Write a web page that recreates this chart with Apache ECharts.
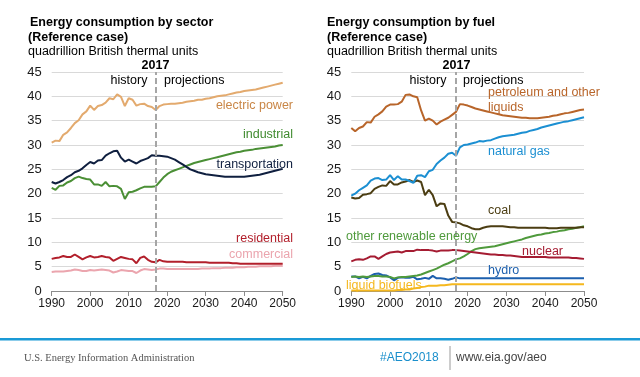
<!DOCTYPE html>
<html><head><meta charset="utf-8">
<script src="https://cdn.jsdelivr.net/npm/echarts@6/dist/echarts.min.js"></script>
<style>html,body{margin:0;padding:0;background:#fff}#c{width:640px;height:377px}</style>
</head><body><div id="c"></div>
<script>
const years = [1990,1991,1992,1993,1994,1995,1996,1997,1998,1999,
  2000,2001,2002,2003,2004,2005,2006,2007,2008,2009,
  2010,2011,2012,2013,2014,2015,2016,2017,2018,2019,
  2020,2021,2022,2023,2024,2025,2026,2027,2028,2029,
  2030,2031,2032,2033,2034,2035,2036,2037,2038,2039,
  2040,2041,2042,2043,2044,2045,2046,2047,2048,2049,2050];
const xTicks = [1990,2000,2010,2020,2030,2040,2050];
const yTicks = [0,5,10,15,20,25,30,35,40,45];
const splitYear = 2017;

// sector (left)
const electricPower = [30.5,30.9,30.8,32.1,32.6,33.5,34.5,35.1,36.3,36.9,38.1,37.2,38.0,38.2,38.7,39.6,39.4,40.4,39.9,38.0,39.6,39.3,38.1,38.4,38.5,38.0,37.8,37.2,
  38.0,38.3,38.4,38.5,38.5,38.6,38.7,38.9,39.0,39.1,39.3,39.3,39.5,39.6,39.8,40.0,40.1,40.2,40.4,40.6,40.8,40.9,41.1,41.2,41.3,41.4,41.6,41.8,42.0,42.2,42.4,42.6,42.8];
const industrial = [21.2,20.8,21.6,21.7,22.3,22.6,23.2,23.5,23.2,23.0,22.9,21.9,21.9,21.6,22.4,21.5,21.6,21.5,21.0,18.9,20.3,20.4,20.7,21.1,21.4,21.4,21.4,21.5,
  22.4,23.3,24.0,24.5,24.8,25.1,25.4,25.7,26.0,26.3,26.5,26.7,26.9,27.1,27.3,27.5,27.7,27.9,28.1,28.3,28.5,28.6,28.8,28.9,29.0,29.2,29.3,29.4,29.5,29.6,29.7,29.9,30.0];
const transportation = [22.4,22.1,22.4,22.8,23.4,23.8,24.4,24.7,25.2,25.9,26.5,26.2,26.8,26.9,27.8,28.3,28.7,28.8,27.4,26.6,27.0,26.6,26.2,26.7,27.0,27.3,27.9,27.8,
  27.8,27.7,27.6,27.3,27.0,26.5,26.0,25.5,25.0,24.7,24.4,24.2,24.0,23.9,23.8,23.7,23.6,23.5,23.5,23.5,23.5,23.5,23.5,23.6,23.7,23.8,23.9,24.1,24.3,24.5,24.7,24.9,25.1];
const residential = [6.6,6.8,6.9,7.2,7.0,7.0,7.5,7.0,6.5,6.9,7.2,6.9,7.0,7.2,7.0,6.9,6.2,6.6,7.0,6.8,6.6,6.5,5.7,6.8,7.1,6.4,6.0,5.9,
  6.4,6.1,6.0,6.0,6.0,6.0,6.0,5.9,5.9,5.9,5.9,5.9,5.9,5.8,5.8,5.8,5.8,5.8,5.8,5.7,5.7,5.6,5.6,5.6,5.6,5.6,5.6,5.6,5.6,5.6,5.6,5.6,5.6];
const commercial = [3.9,4.0,4.0,4.0,4.1,4.2,4.4,4.3,4.1,4.1,4.3,4.2,4.3,4.4,4.3,4.2,3.8,4.0,4.3,4.2,4.1,4.1,3.7,4.2,4.5,4.4,4.3,4.4,
  4.6,4.6,4.5,4.5,4.5,4.5,4.5,4.5,4.5,4.5,4.5,4.6,4.6,4.6,4.7,4.7,4.7,4.8,4.8,4.8,4.9,4.9,4.9,5.0,5.0,5.0,5.1,5.1,5.1,5.1,5.2,5.2,5.2];

// fuel (right)
const petroleum = [33.5,32.8,33.5,33.8,34.7,34.6,35.8,36.3,36.9,37.9,38.3,38.3,38.4,38.9,40.3,40.4,40.0,39.8,37.1,35.0,35.4,35.0,34.2,34.8,35.2,35.6,36.2,36.8,
  38.4,38.3,38.1,37.8,37.5,37.3,37.1,36.9,36.7,36.5,36.3,36.1,36.0,35.9,35.8,35.7,35.6,35.6,35.5,35.5,35.5,35.6,35.7,35.8,36.0,36.1,36.3,36.5,36.6,36.8,37.0,37.2,37.3];
const naturalGas = [19.6,20.0,20.7,21.2,21.7,22.7,23.1,23.2,22.8,22.9,23.8,22.8,23.6,22.9,22.9,22.6,22.2,23.7,23.8,23.4,24.6,24.9,26.1,26.8,27.4,28.2,28.4,27.8,
  29.5,30.0,30.1,30.3,30.5,30.8,30.7,30.9,31.0,31.3,31.6,31.8,31.9,32.0,32.1,32.3,32.5,32.6,32.9,33.1,33.3,33.6,33.8,34.0,34.2,34.4,34.6,34.8,34.9,35.1,35.3,35.5,35.7];
const coal = [19.2,19.0,19.1,19.8,19.9,20.1,21.0,21.4,21.7,21.6,22.6,21.9,21.9,22.3,22.5,22.8,22.4,22.7,22.4,19.7,20.8,19.7,17.4,18.0,17.9,15.5,14.2,14.1,
  13.9,13.5,13.3,12.9,12.7,12.7,13.0,13.2,13.3,13.3,13.3,13.3,13.2,13.1,13.1,13.0,13.0,13.0,13.0,13.0,13.0,13.0,13.0,12.9,12.9,12.9,13.0,13.0,13.0,13.0,13.0,13.1,13.1];
const otherRenewable = [2.9,3.0,2.9,3.0,2.9,3.0,3.1,3.1,3.0,3.0,2.9,2.6,2.8,2.9,2.9,3.0,3.1,3.2,3.4,3.7,4.0,4.3,4.6,5.0,5.4,5.7,6.1,6.5,
  6.7,7.1,7.6,8.2,8.6,8.8,8.9,9.0,9.1,9.2,9.4,9.6,9.8,10.0,10.2,10.4,10.6,10.9,11.1,11.3,11.5,11.6,11.8,11.9,12.1,12.2,12.4,12.5,12.7,12.8,13.0,13.1,13.3];
const nuclear = [6.1,6.4,6.5,6.4,6.7,7.1,7.1,6.6,7.1,7.6,7.9,8.0,8.1,7.9,8.2,8.2,8.2,8.5,8.4,8.4,8.4,8.3,8.1,8.3,8.3,8.3,8.4,8.4,
  8.3,8.2,8.1,8.0,7.9,7.8,7.7,7.6,7.5,7.5,7.4,7.4,7.3,7.3,7.2,7.1,7.0,7.0,7.0,7.0,7.0,7.0,7.0,6.9,6.9,6.9,6.9,6.9,6.9,6.8,6.8,6.7,6.6];
const hydro = [3.0,3.0,2.6,2.9,2.6,3.1,3.5,3.6,3.3,3.2,2.8,2.2,2.7,2.8,2.7,2.7,2.9,2.4,2.5,2.7,2.5,3.1,2.6,2.6,2.5,2.3,2.5,2.8,
  2.6,2.6,2.6,2.6,2.6,2.6,2.6,2.6,2.6,2.6,2.6,2.6,2.6,2.6,2.6,2.6,2.6,2.6,2.6,2.6,2.6,2.6,2.6,2.6,2.6,2.6,2.6,2.6,2.6,2.6,2.6,2.6,2.6];
const liquidBiofuels = [0.1,0.1,0.1,0.1,0.1,0.1,0.1,0.1,0.1,0.1,0.1,0.1,0.2,0.2,0.3,0.3,0.5,0.6,0.8,0.9,1.1,1.1,1.1,1.2,1.2,1.3,1.4,1.4,
  1.4,1.4,1.4,1.4,1.4,1.4,1.4,1.4,1.4,1.4,1.4,1.4,1.4,1.4,1.4,1.4,1.4,1.4,1.4,1.4,1.4,1.4,1.4,1.4,1.4,1.4,1.4,1.4,1.4,1.4,1.4,1.4,1.4];

const FONT = '"Liberation Sans", Arial, sans-serif';
const pairs = arr => years.map((y, i) => [y, arr[i]]);

function axesFor(idx) {
  return {
    x: {
      type: 'value', gridIndex: idx,
      min: xTicks[0], max: xTicks[xTicks.length - 1], interval: xTicks[1] - xTicks[0],
      axisLine: { show: true, lineStyle: { color: '#8c8c8c', width: 1 } },
      axisTick: { show: true, length: 5, lineStyle: { color: '#8c8c8c' } },
      splitLine: { show: false },
      axisLabel: { fontFamily: FONT, fontSize: 12, color: '#1a1a1a', margin: 7, formatter: v => String(v) }
    },
    y: {
      type: 'value', gridIndex: idx,
      min: yTicks[0], max: yTicks[yTicks.length - 1], interval: yTicks[1] - yTicks[0],
      axisLine: { show: false }, axisTick: { show: false },
      splitLine: { show: true, lineStyle: { color: '#d9d9d9', width: 1 } },
      axisLabel: { fontFamily: FONT, fontSize: 13, color: '#1a1a1a', margin: 10 }
    }
  };
}
const a0 = axesFor(0), a1 = axesFor(1);

function line(name, arr, color, idx, z) {
  return {
    name, type: 'line', xAxisIndex: idx, yAxisIndex: idx,
    data: pairs(arr), showSymbol: false, symbol: 'none', smooth: false,
    lineStyle: { color, width: 2 }, z: z || 2, silent: true, animation: false
  };
}
function divider(idx) {
  return {
    type: 'line', xAxisIndex: idx, yAxisIndex: idx, data: [], symbol: 'none', animation: false,
    markLine: {
      silent: true, symbol: ['none', 'none'], animation: false,
      label: { show: false },
      lineStyle: { color: '#a6a6a6', width: 2, type: [6, 3] },
      data: [{ xAxis: splitYear }]
    }, z: 5
  };
}

function txt(x, y, text, opts) {
  return {
    type: 'text', x, y, silent: true, z: 10,
    style: Object.assign({
      text, fontFamily: FONT, fontSize: 12.5, fill: '#000',
      textAlign: 'left', textVerticalAlign: 'middle'
    }, opts || {})
  };
}

const option = {
  backgroundColor: '#fff',
  animation: false,
  grid: [
    { left: 51.7, right: 640 - 282.7, top: 72, bottom: 377 - 291, containLabel: false },
    { left: 351.3, right: 640 - 584, top: 72, bottom: 377 - 291, containLabel: false }
  ],
  xAxis: [a0.x, a1.x],
  yAxis: [a0.y, a1.y],
  series: [
    divider(0), divider(1),
    line('electric power', electricPower, '#e3aa6e', 0),
    line('industrial', industrial, '#4a8f35', 0),
    line('transportation', transportation, '#0f1f3f', 0),
    line('commercial', commercial, '#eba5ae', 0),
    line('residential', residential, '#b21f2b', 0),
    line('liquid biofuels', liquidBiofuels, '#f5b81e', 1),
    line('hydro', hydro, '#1d60ae', 1),
    line('other renewable energy', otherRenewable, '#4f9a3c', 1),
    line('nuclear', nuclear, '#a51c32', 1),
    line('coal', coal, '#4b3d12', 1),
    line('natural gas', naturalGas, '#1b8fd2', 1),
    line('petroleum and other liquids', petroleum, '#b8652a', 1)
  ],
  graphic: [
    // left titles
    txt(30, 22.5, 'Energy consumption by sector', { fontWeight: 'bold' }),
    txt(28, 37.5, '(Reference case)', { fontWeight: 'bold' }),
    txt(28, 52, 'quadrillion British thermal units'),
    txt(155.5, 66, '2017', { fontWeight: 'bold', textAlign: 'center' }),
    txt(129, 81, 'history', { textAlign: 'center' }),
    txt(164, 81, 'projections'),
    txt(293, 106, 'electric power', { textAlign: 'right', fill: '#c98646' }),
    txt(293, 135, 'industrial', { textAlign: 'right', fill: '#3f8a2e' }),
    txt(293, 165, 'transportation', { textAlign: 'right', fill: '#0f1f3f' }),
    txt(293, 239, 'residential', { textAlign: 'right', fill: '#b21f2b' }),
    txt(293, 254.5, 'commercial', { textAlign: 'right', fill: '#eba5ae' }),
    // right titles
    txt(327, 22.5, 'Energy consumption by fuel', { fontWeight: 'bold' }),
    txt(327, 37.5, '(Reference case)', { fontWeight: 'bold' }),
    txt(327, 52, 'quadrillion British thermal units'),
    txt(456.5, 66, '2017', { fontWeight: 'bold', textAlign: 'center' }),
    txt(428, 81, 'history', { textAlign: 'center' }),
    txt(463, 81, 'projections'),
    txt(488, 92.5, 'petroleum and other', { fill: '#b8652a' }),
    txt(488, 107.5, 'liquids', { fill: '#b8652a' }),
    txt(488, 152, 'natural gas', { fill: '#1b8fd2' }),
    txt(488, 211, 'coal', { fill: '#4b3d12' }),
    txt(346, 237, 'other renewable energy', { fill: '#4f9a3c' }),
    txt(522, 252, 'nuclear', { fill: '#a51c32' }),
    txt(488, 271, 'hydro', { fill: '#1d60ae' }),
    txt(346, 285.5, 'liquid biofuels', { fill: '#f5b81e' }),
    // footer
    { type: 'rect', silent: true, shape: { x: 0, y: 338, width: 640, height: 2.5 }, style: { fill: '#1a9ad6' } },
    txt(24, 358, 'U.S. Energy Information Administration', { fontFamily: '"Liberation Serif", "Times New Roman", serif', fontSize: 10.5, fill: '#555' }),
    txt(380, 358, '#AEO2018', { fontSize: 12, fill: '#1a8fcc' }),
    { type: 'line', silent: true, shape: { x1: 450, y1: 346, x2: 450, y2: 370 }, style: { stroke: '#9a9a9a', lineWidth: 1 } },
    txt(456, 358, 'www.eia.gov/aeo', { fontSize: 12, fill: '#444' })
  ]
};

const chart = echarts.init(document.getElementById('c'), null, { renderer: 'canvas', width: 640, height: 377 });
chart.setOption(option);
</script>
</body></html>
